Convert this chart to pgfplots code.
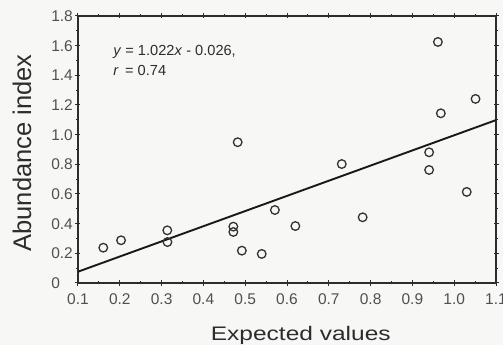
\documentclass[border=0pt]{standalone}
\usepackage{fontspec}
\setmainfont{Liberation Sans}
\usepackage{graphicx}
\usepackage{pgfplots}
\pgfplotsset{compat=1.18}
\definecolor{bgc}{RGB}{247,247,245}
\definecolor{axc}{RGB}{45,45,45}
\definecolor{tlc}{RGB}{80,80,80}
\definecolor{mkc}{RGB}{50,50,50}
\begin{document}
\begin{tikzpicture}
\path[use as bounding box, fill=bgc] (-78pt,-62pt) rectangle (425pt,283pt);
\begin{axis}[
  scale only axis,
  width=418pt, height=267pt,
  xmin=0.1, xmax=1.1, ymin=0, ymax=1.8,
  xtick={0.1,0.2,0.3,0.4,0.5,0.6,0.7,0.8,0.9,1.0,1.1},
  xticklabels={0.1,0.2,0.3,0.4,0.5,0.6,0.7,0.8,0.9,1.0,1.1},
  ytick={0,0.2,0.4,0.6,0.8,1.0,1.2,1.4,1.6,1.8},
  yticklabels={\makebox[22pt][l]{0},\makebox[22pt][l]{0.2},\makebox[22pt][l]{0.4},\makebox[22pt][l]{0.6},\makebox[22pt][l]{0.8},\makebox[22pt][l]{1.0},\makebox[22pt][l]{1.2},\makebox[22pt][l]{1.4},\makebox[22pt][l]{1.6},\makebox[22pt][l]{1.8}},
  minor x tick num=1,
  minor y tick num=1,
  tick align=center,
  major tick length=5pt,
  minor tick length=3pt,
  axis line style={axc, line width=1.4pt},
  every tick/.style={axc, line width=1pt},
  tick label style={font=\fontsize{15.5}{17}\selectfont, text=tlc},
  xticklabel style={inner sep=0pt, anchor=north, yshift=-8pt},
  yticklabel style={inner sep=0pt, anchor=east, xshift=-2pt},
  xlabel={\scalebox{1}[0.8]{\fontsize{24.5}{28}\selectfont Expected values}},
  ylabel={\fontsize{25.5}{28}\selectfont Abundance index},
  every axis x label/.style={at={(axis description cs:0.533,-0.2135)}, anchor=base, inner sep=0pt, text=axc},
  every axis y label/.style={at={(axis description cs:-0.1124,0.487)}, rotate=90, anchor=base, inner sep=0pt, text=axc},
  clip=false,
]
\addplot[only marks, mark=o, mark size=4.3pt, mark options={mkc, line width=1.3pt}] coordinates {
  (0.1605,0.238) (0.203,0.288) (0.3136,0.355) (0.314,0.276)
  (0.4716,0.380) (0.4716,0.344) (0.492,0.218) (0.5395,0.196)
  (0.571,0.492) (0.620,0.384) (0.731,0.802) (0.781,0.443)
  (0.940,0.881) (0.940,0.762) (0.961,1.625) (0.968,1.144)
  (1.051,1.241) (1.030,0.614) (0.482,0.949)
};
\addplot[black!90, line width=1.9pt] coordinates {(0.1,0.0762) (1.1,1.0982)};
\node[anchor=base west, inner sep=0pt, text=axc, font=\fontsize{14.6}{16}\selectfont] at (axis cs:0.184,1.531) {\textit{y} = 1.022\textit{x} - 0.026,};
\node[anchor=base west, inner sep=0pt, text=axc, font=\fontsize{14.6}{16}\selectfont] at (axis cs:0.184,1.396) {\textit{r}\, = 0.74};
\end{axis}
\end{tikzpicture}
\end{document}
